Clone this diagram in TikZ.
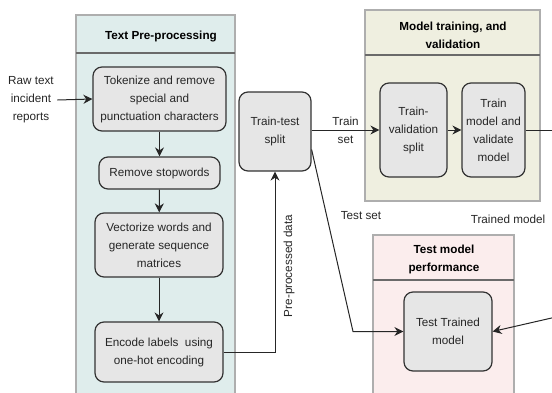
\documentclass[tikz,border=0pt]{standalone}
\usepackage{fontspec}
\setmainfont{Liberation Sans}
\usetikzlibrary{arrows.meta,calc}
\definecolor{boxfill}{HTML}{E6E6E6}
\definecolor{boxline}{HTML}{333333}
\definecolor{tealbg}{HTML}{DFEDEC}
\definecolor{olivebg}{HTML}{EFEFE0}
\definecolor{pinkbg}{HTML}{FBEDED}
\definecolor{contline}{HTML}{AEAEAE}
\definecolor{headline}{HTML}{6A6A6A}
\begin{document}
\begin{tikzpicture}[x=1pt,y=-1pt,
  font=\fontsize{11.7}{18}\selectfont,
  stepbox/.style={draw=boxline,line width=1.2pt,fill=boxfill,rounded corners=9pt,align=center,inner sep=1pt,text=black!85},
  cont/.style={draw=contline,line width=1.8pt},
  hdr/.style={draw=headline,line width=1.2pt},
  head/.style={font=\fontsize{11.7}{18}\selectfont\bfseries,align=center},
  arr/.style={draw=black!85,line width=1pt,-{Stealth[length=9pt,width=9pt]}},
  plain/.style={draw=black!85,line width=1pt},
  lbl/.style={align=center,text=black!85}]
\useasboundingbox (0,0) rectangle (552,392);
\clip (0,0) rectangle (552,392);
% containers
\path[cont,fill=tealbg] (76,15) rectangle (235,400);
\draw[hdr] (76,53) -- (235,53);
\node[head] (h1) at (161,36) {Text Pre-processing};
\path[cont,fill=olivebg] (365,10) rectangle (540,201);
\draw[hdr] (365,55) -- (540,55);
\node[head] (h2) at (453,35) {Model training, and\\validation};
\path[cont,fill=pinkbg] (373,235) rectangle (514,400);
\draw[hdr] (373,280) -- (514,280);
\node[head] (h3) at (444,259) {Test model\\performance};
% nodes
\node[stepbox,minimum width=133pt,minimum height=64pt] (tok) at (159.5,99) {Tokenize and remove\\special and\\punctuation characters};
\node[stepbox,minimum width=121pt,minimum height=32pt] (stop) at (159.5,173) {Remove stopwords};
\node[stepbox,minimum width=128pt,minimum height=64pt] (vec) at (159,245) {Vectorize words and\\generate sequence\\matrices};
\node[stepbox,minimum width=128pt,minimum height=60pt] (enc) at (159,352) {Encode labels\ \ using\\one-hot encoding};
\node[stepbox,minimum width=72pt,minimum height=79pt] (tts) at (275,131.5) {Train-test\\split};
\node[stepbox,minimum width=67pt,minimum height=94pt] (tvs) at (413.5,130) {Train-\\validation\\split};
\node[stepbox,minimum width=63pt,minimum height=94pt] (tm) at (493.5,130) {Train\\model and\\validate\\model};
\node[stepbox,minimum width=88pt,minimum height=79pt] (ttm) at (448,331.5) {Test Trained\\model};
\node[lbl] (raw) at (31,100) {Raw text\\incident\\reports};
\coordinate (out) at (556,130);
\coordinate (tin) at (556,317);
\coordinate (bend) at (353,331.5);
% connectors
\draw[arr] (raw.east) -- (tok.west);
\draw[arr] (tok) -- (stop);
\draw[arr] (stop) -- (vec);
\draw[arr] (vec) -- (enc);
\draw[arr] (enc.east) -| (tts.south);
\node[lbl,rotate=90] (pp) at (289,266) {Pre-processed data};
\draw[arr] (tts.east |- tvs.west) -- node[lbl] (ts) {Train\\set} (tvs.west);
\draw[arr] (tvs) -- (tm);
\draw[plain] (tm.east) -- (out);
\draw[arr] ([yshift=-18pt]tts.east) -- (bend) -- (ttm.west);
\draw[arr] (tin) -- (ttm.east);
\node[lbl] (tsl) at (361,216) {Test set};
\node[lbl] (tml) at (508,219) {Trained model};
\end{tikzpicture}
\end{document}
